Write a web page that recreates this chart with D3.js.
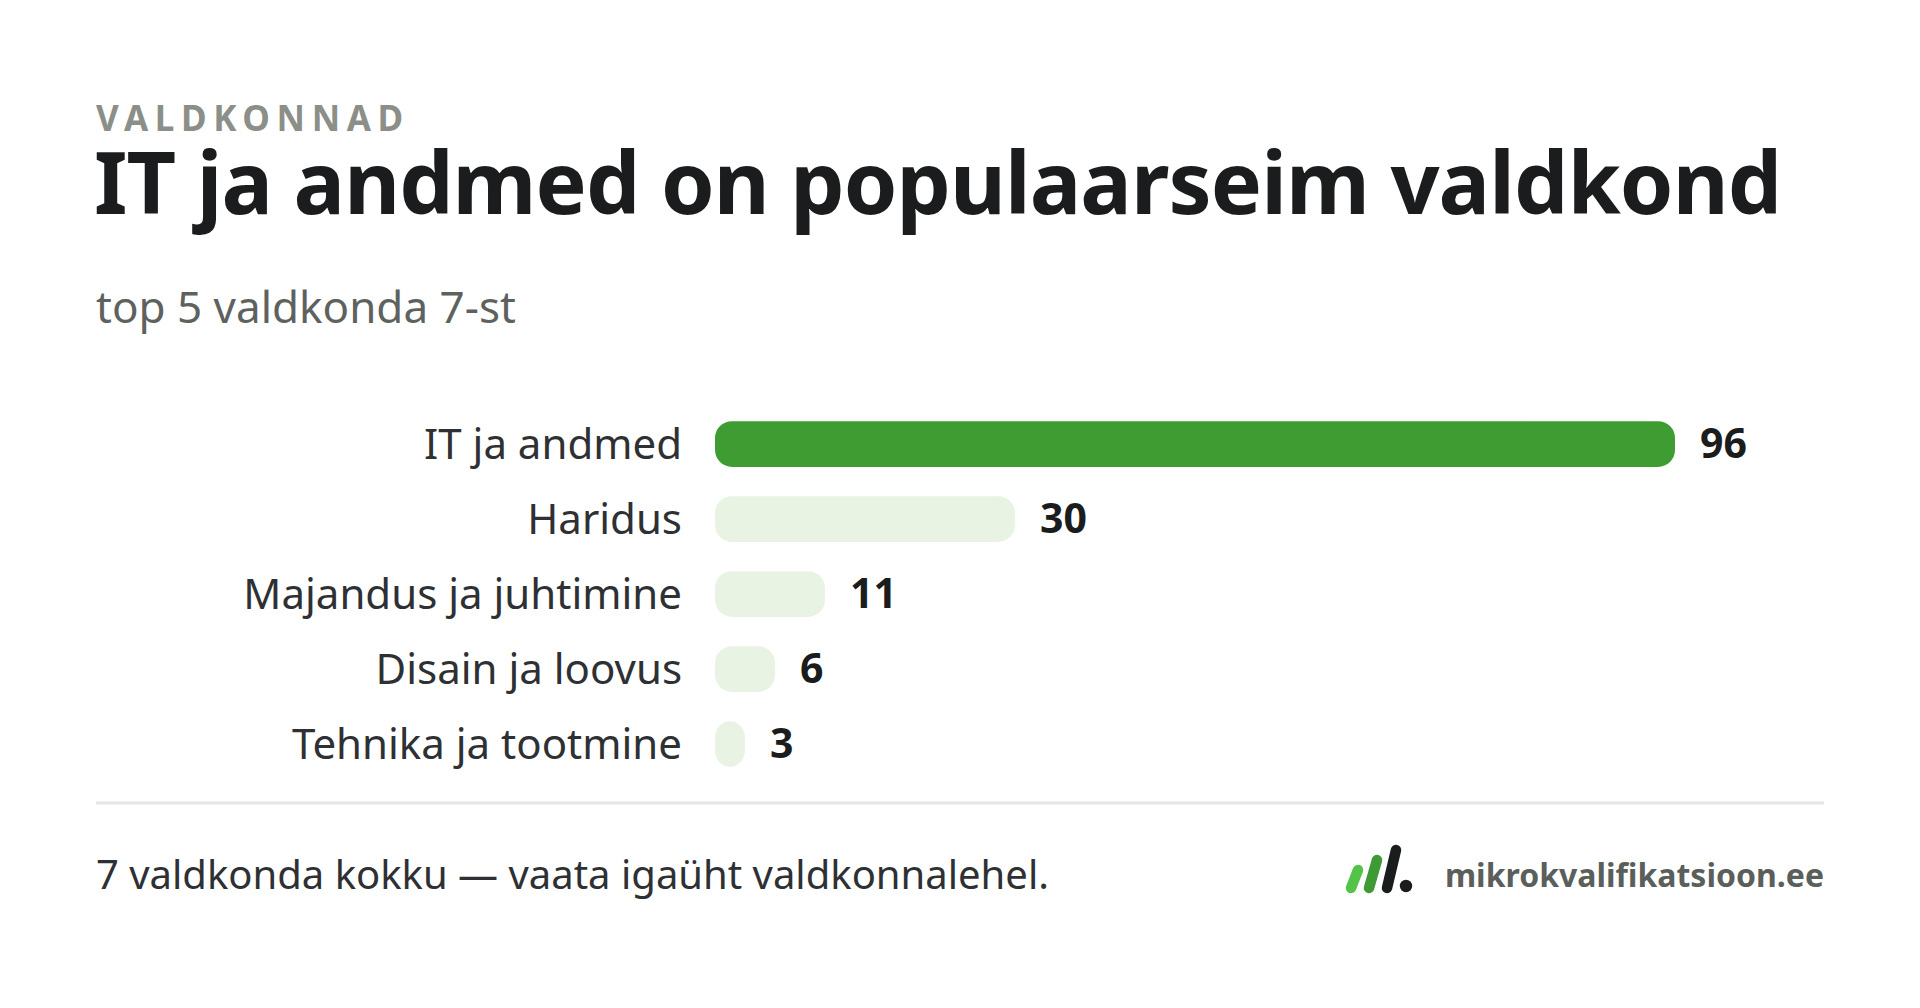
<!DOCTYPE html>
<html>
<head>
<meta charset="utf-8">
<script src="https://cdn.jsdelivr.net/npm/d3@7"></script>
<style>
  html, body { margin: 0; padding: 0; background: #ffffff; }
  svg text { font-family: "Noto Sans", sans-serif; }
</style>
</head>
<body>
<svg id="chart" width="1920" height="1008"></svg>
<script>
// data
const categories = ["IT ja andmed", "Haridus", "Majandus ja juhtimine", "Disain ja loovus", "Tehnika ja tootmine"];
const counts = [96, 30, 11, 6, 3];
const highlight = ["IT ja andmed"];

const kicker = "VALDKONNAD";
const title = "IT ja andmed on populaarseim valdkond";
const subtitle = "top 5 valdkonda 7-st";
const footNote = "7 valdkonda kokku \u2014 vaata igaüht valdkonnalehel.";
const brand = "mikrokvalifikatsioon.ee";

const svg = d3.select("#chart");
const rows = categories.map((c, i) => ({ cat: c, val: counts[i] }));

// header
svg.append("text")
  .attr("x", 96).attr("y", 131)
  .attr("font-size", 35).attr("font-weight", 700)
  .attr("letter-spacing", "6.6px")
  .attr("fill", "#8b8f88")
  .text(kicker);

svg.append("text")
  .attr("x", 94).attr("y", 214)
  .attr("font-size", 86).attr("font-weight", 700)
  .attr("letter-spacing", "-0.9px")
  .attr("fill", "#1b1c1d")
  .text(title);

svg.append("text")
  .attr("x", 96).attr("y", 323)
  .attr("font-size", 44)
  .attr("fill", "#5e625f")
  .text(subtitle);

// scales
const x = d3.scaleLinear().domain([0, d3.max(counts)]).range([715, 1675]);
const y = d3.scaleBand().domain(categories)
  .range([406.5, 781.5]).paddingInner(0.39).paddingOuter(0.195);

const g = svg.append("g");

g.selectAll("rect.bar")
  .data(rows)
  .join("rect")
  .attr("class", "bar")
  .attr("x", x(0))
  .attr("y", d => y(d.cat))
  .attr("width", d => x(d.val) - x(0))
  .attr("height", y.bandwidth())
  .attr("rx", 17).attr("ry", 17)
  .attr("fill", d => highlight.includes(d.cat) ? "#3f9c33" : "#e8f3e4");

g.selectAll("text.cat")
  .data(rows)
  .join("text")
  .attr("class", "cat")
  .attr("x", x(0) - 33)
  .attr("y", d => y(d.cat) + y.bandwidth() / 2 + 0.5)
  .attr("dy", "0.35em")
  .attr("text-anchor", "end")
  .attr("font-size", 42)
  .attr("fill", "#2e3033")
  .text(d => d.cat);

g.selectAll("text.val")
  .data(rows)
  .join("text")
  .attr("class", "val")
  .attr("x", d => x(d.val) + 25)
  .attr("y", d => y(d.cat) + y.bandwidth() / 2)
  .attr("dy", "0.35em")
  .attr("font-size", 41).attr("font-weight", 700)
  .attr("fill", "#1b1c1d")
  .text(d => d.val);

// footer rule
svg.append("line")
  .attr("x1", 96).attr("x2", 1824)
  .attr("y1", 803).attr("y2", 803)
  .attr("stroke", "#e3e5e2").attr("stroke-width", 3);

svg.append("text")
  .attr("x", 96).attr("y", 889)
  .attr("font-size", 40)
  .attr("fill", "#2e3033")
  .text(footNote);

// logo
const logo = svg.append("g").attr("stroke-linecap", "round");
logo.append("line").attr("x1", 1351).attr("y1", 888).attr("x2", 1358).attr("y2", 870)
  .attr("stroke", "#55c24a").attr("stroke-width", 10.5);
logo.append("line").attr("x1", 1369).attr("y1", 888).attr("x2", 1377).attr("y2", 860)
  .attr("stroke", "#3d9a35").attr("stroke-width", 10.5);
logo.append("line").attr("x1", 1387).attr("y1", 888).attr("x2", 1396).attr("y2", 850)
  .attr("stroke", "#1b1c1d").attr("stroke-width", 10.5);
logo.append("circle").attr("cx", 1406).attr("cy", 886).attr("r", 6.2).attr("fill", "#1b1c1d");

svg.append("text")
  .attr("x", 1824).attr("y", 887)
  .attr("text-anchor", "end")
  .attr("font-size", 32).attr("font-weight", 700)
  .attr("fill", "#5a5f5b")
  .text(brand);
</script>
</body>
</html>
